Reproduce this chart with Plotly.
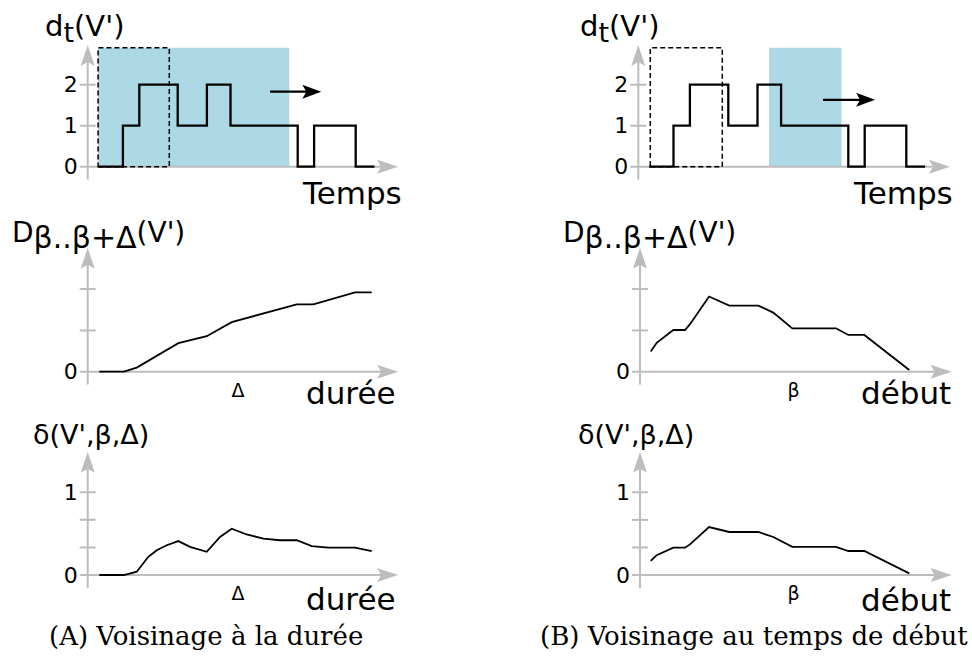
import plotly.graph_objects as go

W, H = 972, 664

# ---------------- data ----------------
# degree d_t(V') over time (step function), same series in both columns
step_t = [1.35, 4.4, 6.45, 11.25, 14.9, 17.85, 26.25, 28.3, 33.5, 35.85]
step_d = [0, 1, 2, 1, 2, 1, 0, 1, 0, 0]

# (A) D as a function of the duration
durA_x = [1.45, 4.54, 6.13, 11.33, 14.88, 18.0, 26.13, 28.21, 33.41, 35.5]
durA_D = [0, 0, 0.1, 0.69, 0.86, 1.2, 1.63, 1.63, 1.92, 1.92]

# (B) D as a function of the start time
debB_x = [1.34, 2.09, 4.16, 5.63, 6.25, 8.63, 11.16, 14.79, 16.66, 19.04, 24.5, 26.04, 28.04, 33.66]
debB_D = [0.49, 0.70, 1.01, 1.01, 1.15, 1.82, 1.6, 1.6, 1.43, 1.05, 1.05, 0.89, 0.89, 0.04]

# (A) delta as a function of the duration
delA_x = [1.45, 4.54, 6.13, 7.58, 8.63, 9.88, 11.33, 12.79, 14.88, 16.54, 18.0, 19.88,
          21.95, 24.04, 26.13, 28.0, 30.08, 33.41, 35.5]
delA_v = [0, 0, 0.04, 0.22, 0.30, 0.36, 0.41, 0.34, 0.28, 0.46, 0.56, 0.49,
          0.44, 0.42, 0.42, 0.35, 0.33, 0.33, 0.29]

# (B) delta as a function of the start time
delB_x = debB_x
delB_v = [0.17, 0.24, 0.33, 0.33, 0.37, 0.58, 0.52, 0.52, 0.46, 0.34, 0.34, 0.29, 0.29, 0.02]

# windows in the top plots
winA_start, winA_init_end, winA_end = 1.3, 10.2, 25.2
winB_init_start, winB_init_end = 1.5, 10.5
winB_start, winB_end = 16.35, 25.4
win_top = 2.9
arrowA = (22.8, 29.2, 1.83)
arrowB = (23.1, 29.6, 1.63)

# ticks
top_tickvals, top_ticktext = [0, 1, 2], ["0", "1", "2"]
top_marks = [1, 2]
mid_tickvals, mid_ticktext = [0], ["0"]
mid_marks = [1, 2]
bot_tickvals, bot_ticktext = [0, 1], ["0", "1"]
bot_marks = [1 / 3, 2 / 3, 1]
xmark_A, xmark_B = 18.8, 19.2

# ---------------- layout helpers ----------------
SX = 8.0
GREY = "#bdbdbd"
BLUE = "#add8e6"
FONT = "DejaVu Sans"

panels = [
    dict(ox=87.7, oy=166.7, sy=41.0, xtip=38.8, ytip=2.97, yv=top_tickvals, yt=top_ticktext, marks=top_marks, xv=[], xt=[]),
    dict(ox=638.3, oy=166.7, sy=41.0, xtip=38.95, ytip=2.97, yv=top_tickvals, yt=top_ticktext, marks=top_marks, xv=[], xt=[]),
    dict(ox=87.7, oy=371.7, sy=41.3, xtip=38.8, ytip=3.0, yv=mid_tickvals, yt=mid_ticktext, marks=mid_marks, xv=[xmark_A], xt=["Δ"]),
    dict(ox=640.0, oy=371.7, sy=41.3, xtip=38.95, ytip=3.0, yv=mid_tickvals, yt=mid_ticktext, marks=mid_marks, xv=[xmark_B], xt=["β"]),
    dict(ox=87.7, oy=575.0, sy=82.7, xtip=38.8, ytip=1.49, yv=bot_tickvals, yt=bot_ticktext, marks=bot_marks, xv=[xmark_A], xt=["Δ"]),
    dict(ox=640.0, oy=575.0, sy=82.7, xtip=38.95, ytip=1.49, yv=bot_tickvals, yt=bot_ticktext, marks=bot_marks, xv=[xmark_B], xt=["β"]),
]

fig = go.Figure()
shapes = []
layout = {}


def head_path(tx, ty, direction, sy, L=21, hw=7, notch=4):
    if direction == "right":
        pts = [(tx, ty), (tx - L / SX, ty + hw / sy), (tx - (L - notch) / SX, ty),
               (tx - L / SX, ty - hw / sy)]
    else:
        pts = [(tx, ty), (tx - hw / SX, ty - L / sy), (tx, ty - (L - notch) / sy),
               (tx + hw / SX, ty - L / sy)]
    return "M " + " L ".join(f"{x:.4f},{y:.4f}" for x, y in pts) + " Z"


for i, p in enumerate(panels):
    k = "" if i == 0 else str(i + 1)
    xa, ya = "x" + k, "y" + k
    sy = p["sy"]
    left = p["ox"] - 10
    right = p["ox"] + p["xtip"] * SX + 3
    top = p["oy"] - p["ytip"] * sy - 3
    bottom = p["oy"] + 13
    p.update(xa=xa, ya=ya)
    layout["xaxis" + k] = dict(
        domain=[left / W, right / W], range=[(left - p["ox"]) / SX, (right - p["ox"]) / SX],
        anchor=ya, showgrid=False, zeroline=False, showline=False, ticks="",
        tickvals=p["xv"], ticktext=p["xt"], showticklabels=bool(p["xv"]),
        tickfont=dict(family=FONT, size=19, color="black"), ticklabelstandoff=-8,
        fixedrange=True)
    layout["yaxis" + k] = dict(
        domain=[1 - bottom / H, 1 - top / H], range=[(p["oy"] - bottom) / sy, (p["oy"] - top) / sy],
        anchor=xa, showgrid=False, zeroline=False, showline=False, ticks="",
        tickvals=p["yv"], ticktext=p["yt"],
        tickfont=dict(family=FONT, size=22, color="black"), ticklabelstandoff=-1,
        fixedrange=True)

    if i == 0:
        shapes.append(dict(type="rect", xref=xa, yref=ya, x0=winA_start, x1=winA_end, y0=0, y1=win_top,
                           fillcolor=BLUE, line=dict(width=0), layer="below"))
    if i == 1:
        shapes.append(dict(type="rect", xref=xa, yref=ya, x0=winB_start, x1=winB_end, y0=0, y1=win_top,
                           fillcolor=BLUE, line=dict(width=0), layer="below"))

    # grey axes with arrow heads and cross ticks
    shapes.append(dict(type="line", xref=xa, yref=ya, x0=0, x1=0, y0=-13 / sy, y1=p["ytip"] - 17 / sy,
                       line=dict(color=GREY, width=2), layer="below"))
    shapes.append(dict(type="line", xref=xa, yref=ya, x0=-8 / SX, x1=p["xtip"] - 17 / SX, y0=0, y1=0,
                       line=dict(color=GREY, width=2), layer="below"))
    shapes.append(dict(type="path", xref=xa, yref=ya, path=head_path(0, p["ytip"], "up", sy),
                       fillcolor=GREY, line=dict(width=0), layer="below"))
    shapes.append(dict(type="path", xref=xa, yref=ya, path=head_path(p["xtip"], 0, "right", sy),
                       fillcolor=GREY, line=dict(width=0), layer="below"))
    for m in p["marks"]:
        shapes.append(dict(type="line", xref=xa, yref=ya, x0=-8 / SX, x1=8 / SX, y0=m, y1=m,
                           line=dict(color=GREY, width=2), layer="below"))

# data traces
pa = panels
series = [(step_t, step_d, 2.3, "hv"), (step_t, step_d, 2.3, "hv"),
          (durA_x, durA_D, 1.8, "linear"), (debB_x, debB_D, 1.8, "linear"),
          (delA_x, delA_v, 1.8, "linear"), (delB_x, delB_v, 1.8, "linear")]
for p, (xs, ys, lw, shp) in zip(pa, series):
    fig.add_trace(go.Scatter(x=xs, y=ys, mode="lines", line=dict(color="black", width=lw, shape=shp),
                             xaxis=p["xa"], yaxis=p["ya"], showlegend=False, hoverinfo="skip"))

# dashed initial windows and motion arrows
for j, (x0, x1, arr) in enumerate([(winA_start, winA_init_end, arrowA), (winB_init_start, winB_init_end, arrowB)]):
    p = pa[j]
    shapes.append(dict(type="rect", xref=p["xa"], yref=p["ya"], x0=x0, x1=x1, y0=0, y1=win_top,
                       line=dict(color="black", width=1.5, dash="5px,3px"), fillcolor="rgba(0,0,0,0)",
                       layer="above"))
    ax0, ax1, ay = arr
    shapes.append(dict(type="line", xref=p["xa"], yref=p["ya"], x0=ax0, x1=ax1 - 14 / SX, y0=ay, y1=ay,
                       line=dict(color="black", width=2.3), layer="above"))
    shapes.append(dict(type="path", xref=p["xa"], yref=p["ya"],
                       path=head_path(ax1, ay, "right", p["sy"], L=19, hw=7, notch=4),
                       fillcolor="black", line=dict(width=0), layer="above"))

# text labels
ann = []


def label(text, x_px, top_px, size, family=FONT, xanchor="left"):
    ann.append(dict(text=text, x=x_px / W, y=1 - top_px / H, xref="paper", yref="paper",
                    xanchor=xanchor, yanchor="top", showarrow=False,
                    font=dict(family=family, size=size, color="black")))


dt_lab = "d<sub><span style='font-size:27px'>t</span></sub>(V')"
D_lab = "D<sub><span style='font-size:30px'>β..β+Δ</span></sub>(V')"
label(dt_lab, 43, 7, 29)
label(dt_lab, 578, 7, 29)
label("Temps", 300, 173, 31)
label("Temps", 851, 173, 31)
label(D_lab, 10, 214, 28)
label(D_lab, 561, 214, 28)
label("durée", 304, 373, 31)
label("début", 859, 373, 31)
label("δ(V',β,Δ)", 31, 417, 27)
label("δ(V',β,Δ)", 576, 417, 27)
label("durée", 304, 579, 31)
label("début", 859, 580, 31)
label("(A) Voisinage à la durée", 206, 619, 26, family="DejaVu Serif", xanchor="center")
label("(B) Voisinage au temps de début", 754, 619, 26, family="DejaVu Serif", xanchor="center")

fig.update_layout(width=W, height=H, margin=dict(l=0, r=0, t=0, b=0),
                  paper_bgcolor="white", plot_bgcolor="rgba(0,0,0,0)",
                  shapes=shapes, annotations=ann, showlegend=False, **layout)

fig.write_html("out.html", config={"displayModeBar": False},
               post_script="document.body.style.margin='0px';")
